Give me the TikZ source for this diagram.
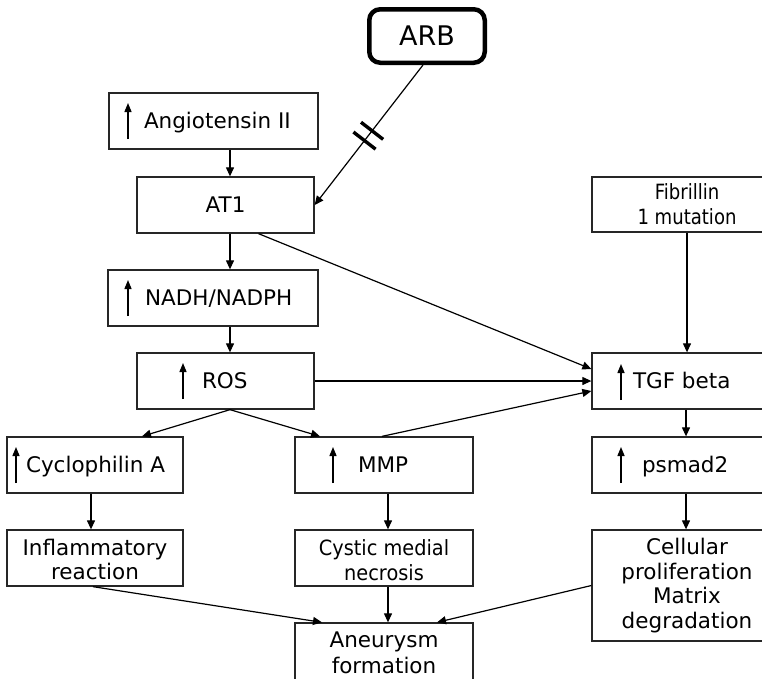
\documentclass[tikz,border=0pt]{standalone}
\usepackage{fontspec}
\setmainfont{DejaVu Sans}
\newfontfamily\condfont[FakeStretch=0.92]{DejaVu Sans}
\newfontfamily\narrowfont[FakeStretch=0.86]{DejaVu Sans}
\usetikzlibrary{arrows.meta,calc}
\begin{document}
\begin{tikzpicture}[x=1pt,y=-1pt,
  box/.style={draw=black!85, line width=1.3pt, inner sep=0pt, minimum height=56pt,
    font=\fontsize{21.5}{24}\selectfont, text height=15.7pt, text depth=0pt},
  mbox/.style={draw=black!85, line width=1.3pt, inner sep=0pt, minimum height=56pt, align=center},
  arr/.style={line width=1.2pt, -{Triangle[length=9pt,width=8pt]}},
  uparr/.style={line width=1.4pt, -{Triangle[length=9pt,width=7pt]}},
  bar/.style={line width=3.4pt}
]
\useasboundingbox (0,0) rectangle (762,678);
\clip (0,0) rectangle (762,678);

% boxes
\node[draw=black, line width=4.5pt, rounded corners=11pt, minimum width=115.5pt, minimum height=53.5pt,
      inner sep=0pt, font=\fontsize{27}{30}\selectfont, text height=19.5pt, text depth=0pt] (arb) at (427,36) {ARB};
\node[box, minimum width=209pt] (ang) at (213.5,121) {\makebox[209pt][l]{\hspace*{35pt}Angiotensin II}};
\node[box, minimum width=177pt] (at1) at (225.5,205) {AT1};
\node[box, minimum width=210pt] (nadh) at (213,298) {\makebox[210pt][l]{\hspace*{37pt}NADH/NADPH}};
\node[box, minimum width=177pt] (ros) at (225.5,381) {\makebox[177pt][l]{\hspace*{65pt}ROS}};
\node[box, minimum width=176pt] (cyc) at (95,465) {\makebox[176pt][l]{\hspace*{19pt}Cyclophilin A}};
\node[box, minimum width=178pt] (mmp) at (384,465) {\makebox[178pt][l]{\hspace*{63pt}MMP}};
\node[mbox, minimum width=176pt, font=\fontsize{21.5}{24.5}\selectfont] (infl) at (95,558)
  {\rule{0pt}{19.5pt}Inflammatory\\reaction};
\node[mbox, minimum width=178pt, font=\condfont\fontsize{21}{25}\selectfont] (cyst) at (384,558)
  {\rule{0pt}{19.5pt}Cystic medial\\necrosis};
\node[mbox, minimum width=178pt, minimum height=60pt, font=\fontsize{21.5}{25.5}\selectfont] (aneu) at (384,653)
  {Aneurysm\\formation};

\node[mbox, minimum width=190pt, minimum height=55pt, font=\narrowfont\fontsize{21}{25}\selectfont] (fib) at (687,204.5)
  {Fibrillin\\1 mutation};
\node[box, minimum width=190pt] (tgf) at (687,381) {\makebox[190pt][l]{\hspace*{41pt}TGF beta}};
\node[box, minimum width=190pt] (psm) at (687,465) {\makebox[190pt][l]{\hspace*{50pt}psmad2}};
\node[mbox, minimum width=190pt, minimum height=111pt, font=\fontsize{21.5}{24.5}\selectfont] (cell) at (687,585.5)
  {Cellular\\proliferation\\Matrix\\degradation};

% small up arrows inside boxes
\draw[uparr] (128,139) -- (128,103);
\draw[uparr] (128,316) -- (128,280);
\draw[uparr] (183,399) -- (183,363);
\draw[uparr] (16,483) -- (16,447);
\draw[uparr] (333,483) -- (333,447);
\draw[uparr] (621,400) -- (621,364);
\draw[uparr] (621,483) -- (621,447);

% connectors
\coordinate (cx) at (230,0);
\draw[arr] (ang.south -| cx) -- (at1.north -| cx);
\draw[arr] (at1.south -| cx) -- (nadh.north -| cx);
\draw[arr] (nadh.south -| cx) -- (ros.north -| cx);

\coordinate (arbs) at ([xshift=-4pt]arb.south);
\draw[arr] (arbs) -- (at1.east);
\path (arbs) -- (at1.east) coordinate[pos=0.47] (m1) coordinate[pos=0.54] (m2);
\draw[bar] ($(m1)!14pt!90:(at1.east)$) -- ($(m1)!14pt!-90:(at1.east)$);
\draw[bar] ($(m2)!14pt!90:(at1.east)$) -- ($(m2)!14pt!-90:(at1.east)$);

\draw[arr] ([xshift=33pt]at1.south) -- ([yshift=12pt]tgf.west);
\draw[arr] (ros.east) -- (tgf.west);
\draw[arr] ([xshift=-2pt]mmp.north) -- ([yshift=-10pt]tgf.west);

\coordinate (rs) at ([xshift=4.5pt]ros.south);
\draw[arr] (rs) -- ([xshift=47pt]cyc.north);
\draw[arr] (rs) -- ([xshift=-64pt]mmp.north);

\draw[arr] (fib.south) -- (tgf.north);
\draw[arr] ([xshift=-1pt]tgf.south) -- ([xshift=-1pt]psm.north);
\draw[arr] ([xshift=-1pt]psm.south) -- ([xshift=-1pt]cell.north);

\draw[arr] ([xshift=-4pt]cyc.south) -- ([xshift=-4pt]infl.north);
\draw[arr] ([xshift=4pt]mmp.south) -- ([xshift=4pt]cyst.north);
\draw[arr] ([xshift=4pt]cyst.south) -- ([xshift=4pt]aneu.north);

\draw[arr] ([xshift=-2pt]infl.south) -- ([xshift=-62pt]aneu.north);
\draw[arr] (cell.west) -- ([xshift=53pt]aneu.north);
\end{tikzpicture}
\end{document}
